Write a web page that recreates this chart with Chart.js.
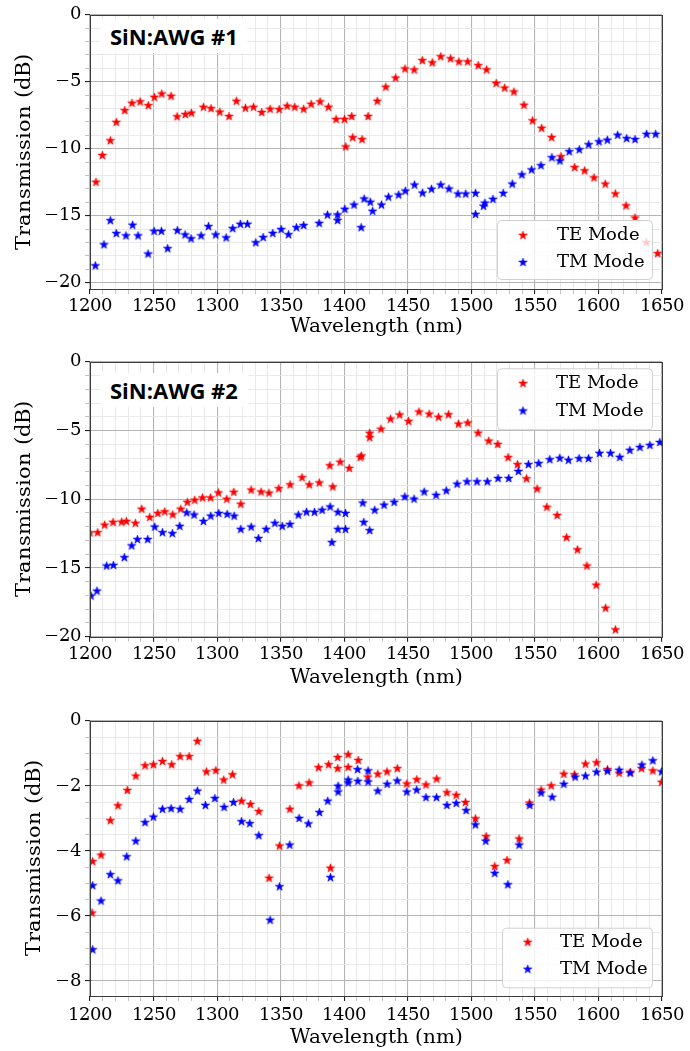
<!DOCTYPE html>
<html>
<head>
<meta charset="utf-8">
<script src="https://cdn.jsdelivr.net/npm/chart.js@4.4.1/dist/chart.umd.min.js"></script>
<style>
  @font-face { font-family: "PlotSerif"; src: local("DejaVu Serif"), local("DejaVuSerif"); }
  html, body { margin: 0; padding: 0; background: #fff; }
  body { width: 690px; height: 1051px; position: relative; overflow: hidden; }
  canvas { position: absolute; left: 0; }
  .tag {
    position: absolute; background: #fff; color: #000;
    font: bold 22px "Open Sans", sans-serif; line-height: 34px;
    padding-left: 10px; box-sizing: border-box; white-space: nowrap;
  }
</style>
</head>
<body>
<canvas id="awg1" width="690" height="345" style="top:0px"></canvas>
<canvas id="awg2" width="690" height="345" style="top:347px"></canvas>
<canvas id="awg3" width="690" height="345" style="top:706px"></canvas>
<div class="tag" style="left:100px; top:19px; width:147px; height:34px;">SiN:AWG #1</div>
<div class="tag" style="left:100px; top:373px; width:148px; height:34px;">SiN:AWG #2</div>
<script>
// ---- data (wavelength in nm, transmission in dB) ----
const wl1TE = [1204.7,1209.7,1216,1220.7,1227.3,1233,1239.4,1245.9,1250.6,1256.4,1263.8,1268.5,1275,1279.8,1289.2,1295.2,1302.1,1309.4,1315.2,1322.3,1328.6,1335.1,1341.7,1348.8,1355.1,1361.1,1368.1,1374,1381,1387.6,1393.6,1400.2,1401.2,1405.9,1406.7,1414,1418.8,1426,1432.7,1440.4,1447.8,1455,1461.4,1469.3,1475.9,1483.7,1490.2,1497.1,1505.4,1512,1519.6,1526.2,1533.5,1541.4,1548.2,1555.3,1563.2,1570.5,1581.3,1589.1,1596.5,1605.4,1613.3,1621.7,1628.8,1637.7,1646.6];
const tr1TE = [-12.5,-10.5,-9.4,-8.03,-7.15,-6.6,-6.5,-6.78,-6.16,-5.91,-6.08,-7.61,-7.44,-7.34,-6.9,-7.0,-7.27,-7.59,-6.45,-6.97,-6.9,-7.29,-7.05,-7.07,-6.82,-6.9,-7.05,-6.68,-6.5,-6.9,-7.81,-7.81,-9.86,-7.59,-9.17,-9.31,-7.59,-6.45,-5.4,-4.72,-4.04,-4.12,-3.42,-3.58,-3.13,-3.28,-3.51,-3.51,-3.79,-4.11,-5.12,-5.47,-5.76,-6.75,-7.91,-8.47,-9.16,-10.59,-11.4,-11.65,-12.17,-12.64,-13.37,-14.26,-15.17,-17.0,-17.83];
const wl1TM = [1204.2,1211,1216,1220.7,1228.3,1233.5,1237.8,1245.7,1250.4,1256.2,1261.1,1268.7,1274.8,1279.5,1287.4,1293.2,1298.9,1307.1,1312.3,1318.3,1323.9,1330.4,1336.2,1343.8,1350.4,1356.2,1362.4,1368.1,1380.3,1386.8,1394.8,1394.8,1400.5,1407.7,1413.3,1415.7,1420.5,1422.3,1429.3,1434.8,1442.8,1448.1,1455.3,1461.6,1468.7,1475.9,1482.4,1489.5,1495.6,1503.3,1503.3,1509.6,1510.7,1517,1525.1,1532.2,1539.8,1547.4,1554.8,1563.4,1569.7,1577,1584.9,1592.3,1600.4,1607,1615.1,1622.2,1628.8,1637.9,1645];
const tr1TM = [-18.74,-17.17,-15.37,-16.33,-16.5,-15.71,-16.5,-17.86,-16.16,-16.16,-17.46,-16.11,-16.43,-16.72,-16.5,-15.81,-16.43,-16.65,-15.96,-15.64,-15.64,-17.02,-16.63,-16.32,-16.03,-16.42,-15.89,-15.73,-15.57,-14.95,-14.94,-15.36,-14.52,-14.2,-15.89,-13.75,-13.99,-14.67,-14.2,-13.61,-13.45,-13.16,-12.71,-13.31,-13.02,-12.71,-13.0,-13.38,-13.38,-13.33,-14.9,-14.29,-14.06,-13.77,-13.33,-12.64,-11.95,-11.58,-11.26,-10.67,-10.91,-10.22,-10.07,-9.7,-9.48,-9.36,-8.99,-9.24,-9.31,-8.92,-8.92];

const wl2TE = [1200,1206,1211.5,1218.1,1224.9,1228.6,1235.7,1240.7,1247,1253.3,1258.8,1265.1,1271.4,1276.6,1282.4,1288.5,1294.8,1301,1307.6,1313.1,1318.6,1326.8,1334.6,1340.8,1348.5,1357.4,1366.8,1372.5,1380.4,1388.7,1391,1396.8,1404,1412.6,1413.5,1420,1420,1428.9,1436.4,1443.6,1450.6,1458.8,1466.8,1474.2,1482,1489.9,1497.2,1505.3,1513.7,1520.8,1528.9,1536.3,1543.4,1551.8,1559.4,1567.5,1574.9,1583.5,1590.9,1598.2,1605.6,1613.4];
const tr2TE = [-12.45,-12.43,-11.88,-11.68,-11.66,-11.61,-11.75,-10.72,-11.32,-11.03,-10.91,-11.13,-10.72,-10.22,-10.07,-9.9,-9.9,-9.54,-10.0,-9.49,-10.36,-9.33,-9.47,-9.55,-9.23,-8.95,-8.43,-8.95,-8.81,-7.56,-9.1,-7.3,-7.75,-6.95,-6.85,-5.2,-5.52,-4.9,-4.17,-3.87,-4.33,-3.65,-3.81,-4.03,-3.85,-4.53,-4.45,-5.19,-5.77,-6.01,-6.97,-7.48,-8.51,-9.25,-10.58,-11.18,-12.79,-13.68,-14.86,-16.25,-17.93,-19.5];
const wl2TM = [1200.8,1205.5,1213.1,1218.4,1227,1232.8,1237.3,1245.4,1250.9,1257,1264.8,1270.6,1276.1,1281.9,1289.2,1295,1301.3,1307.9,1313.4,1318.6,1326.8,1332.5,1338.6,1345.4,1351.2,1357.3,1363.9,1370.3,1376.6,1382.6,1388.9,1390.3,1395.1,1395.1,1401,1401,1414.6,1415.4,1420,1424,1431.3,1439.3,1447.7,1454.9,1462.9,1472.3,1480.3,1488.8,1496.6,1504.5,1512.6,1521,1529.4,1537,1544.9,1553,1561.7,1569.6,1576.4,1584.8,1592.2,1600.8,1609.5,1616.8,1624.7,1632.6,1640.5,1648.3];
const tr2TM = [-17.04,-16.68,-14.86,-14.81,-14.25,-13.39,-12.93,-12.93,-12.02,-12.43,-12.5,-11.97,-10.99,-11.15,-11.61,-11.23,-11.03,-11.1,-11.23,-12.19,-12.02,-12.86,-12.19,-11.75,-11.97,-11.83,-11.15,-10.94,-10.95,-10.8,-10.56,-13.15,-10.95,-12.19,-11.03,-12.19,-10.28,-11.68,-12.28,-10.8,-10.43,-10.22,-9.83,-9.99,-9.47,-9.71,-9.39,-8.9,-8.73,-8.73,-8.73,-8.49,-8.49,-7.98,-7.48,-7.4,-7.12,-7.02,-7.16,-7.04,-7.04,-6.66,-6.66,-6.95,-6.44,-6.23,-6.08,-5.87];

const wl3TE = [1201.6,1202.1,1208.7,1216,1222,1229.4,1236,1243.3,1249.9,1257,1264.3,1270.9,1278,1284.5,1291.6,1299,1305.2,1312.1,1319.2,1326.2,1332.8,1340.9,1349.1,1357.2,1364.4,1372.4,1379.8,1387.7,1389.2,1394.9,1394.9,1403.1,1403.1,1411,1418.6,1426.4,1433.7,1441.8,1449.2,1457.1,1464.3,1472.7,1480.8,1488.1,1495.4,1503.2,1511.6,1518.4,1528.1,1537.6,1545.7,1554.9,1562.8,1572.8,1581.1,1589.8,1598.5,1607.1,1616.3,1625,1633.9,1642.8,1649.7];
const tr3TE = [-5.91,-4.33,-4.13,-3.07,-2.61,-2.14,-1.7,-1.38,-1.35,-1.25,-1.35,-1.1,-1.1,-0.63,-1.57,-1.53,-1.82,-1.66,-2.47,-2.57,-2.79,-4.84,-3.85,-2.72,-2.0,-1.91,-1.44,-1.35,-4.53,-1.13,-1.47,-1.04,-1.43,-1.22,-1.73,-1.64,-1.57,-1.47,-1.94,-1.81,-1.97,-1.79,-2.21,-2.29,-2.51,-3.01,-3.56,-4.48,-4.29,-3.63,-2.53,-2.13,-2.0,-1.64,-1.66,-1.33,-1.29,-1.5,-1.61,-1.58,-1.47,-1.54,-1.89];
const wl3TM = [1202.1,1202.1,1208.7,1216,1222,1228.9,1236,1243.3,1249.9,1257,1263.8,1270.9,1278,1284.5,1290.8,1298.2,1305.5,1312.9,1319.2,1325.7,1332.8,1341.7,1349.1,1357.1,1364.5,1371.8,1380.5,1387,1389.2,1395.2,1395.2,1403.1,1403.1,1410.5,1410.7,1418.8,1418.8,1426.4,1433.8,1441.7,1449.2,1457,1464.3,1472.6,1480.8,1488.1,1495.9,1503.2,1511.3,1518.4,1528.7,1537.6,1546,1554.9,1563.6,1572.8,1581.7,1589.8,1598.5,1607.1,1616.3,1625,1634.2,1642.8,1649.7];
const tr3TM = [-7.04,-5.07,-5.54,-4.73,-4.92,-4.18,-3.7,-3.13,-2.96,-2.72,-2.7,-2.72,-2.42,-2.16,-2.6,-2.39,-2.66,-2.51,-3.1,-3.16,-3.53,-6.13,-5.1,-3.82,-3.0,-3.17,-2.82,-2.47,-4.82,-2.01,-2.19,-1.82,-1.91,-1.5,-1.86,-1.54,-1.88,-2.16,-1.95,-1.85,-2.19,-2.13,-2.36,-2.36,-2.6,-2.54,-2.76,-3.2,-3.7,-4.69,-5.04,-3.82,-2.6,-2.22,-2.35,-1.95,-1.73,-1.7,-1.58,-1.55,-1.52,-1.61,-1.36,-1.23,-1.57];

// tick labels
const xMajor = [1200, 1250, 1300, 1350, 1400, 1450, 1500, 1550, 1600, 1650];
const yMajorAWG = [-20, -15, -10, -5, 0];
const yMajor3 = [-8, -6, -4, -2, 0];
const seriesNames = ['TE Mode', 'TM Mode'];

const SERIF = 'PlotSerif, "DejaVu Serif", serif';
Chart.defaults.font.family = SERIF;
Chart.defaults.color = '#000';

function starImage(color) {
  const c = document.createElement('canvas');
  c.width = 11; c.height = 11;
  const g = c.getContext('2d');
  g.beginPath();
  for (let i = 0; i < 10; i++) {
    const r = i % 2 ? 1.75 : 4.5;
    const a = -Math.PI / 2 + i * Math.PI / 5;
    const px = 5.5 + r * Math.cos(a), py = 5.5 + r * Math.sin(a);
    if (i) g.lineTo(px, py); else g.moveTo(px, py);
  }
  g.closePath();
  g.fillStyle = color; g.fill();
  g.lineWidth = 0.6; g.strokeStyle = color; g.stroke();
  return c;
}
const starRed = starImage('#ff0000');
const starBlue = starImage('#0000ff');

function isMajor(list, v) {
  return v !== undefined && list.some(m => Math.abs(m - v) < 1e-6);
}

function buildTicks(min, max, major, step) {
  const vals = new Set(major.filter(v => v >= min - 1e-9 && v <= max + 1e-9));
  const start = Math.ceil(min / step - 1e-9) * step;
  for (let v = start; v <= max + 1e-9; v += step) vals.add(+v.toFixed(4));
  return [...vals].sort((a, b) => a - b).map(v => ({ value: v }));
}

function fmt(v) {
  return v < 0 ? '\u2212' + Math.abs(v) : String(v);
}

function gridFor(major) {
  return {
    drawTicks: true,
    tickLength: 5,
    color: ctx => isMajor(major, ctx.tick && ctx.tick.value) ? '#b4b4b4' : '#e6e6e6',
    lineWidth: ctx => isMajor(major, ctx.tick && ctx.tick.value) ? 1.1 : 0.9,
    tickColor: ctx => isMajor(major, ctx.tick && ctx.tick.value) ? '#222222' : '#bdbdbd'
  };
}

// frame round the plot area (matplotlib spines)
const framePlugin = {
  id: 'frame',
  afterDatasetsDraw(chart) {
    const a = chart.chartArea, g = chart.ctx;
    g.save();
    g.strokeStyle = '#3c3c3c';
    g.lineWidth = 1;
    g.strokeRect(Math.round(a.left) + 0.5, Math.round(a.top) + 0.5,
      Math.round(a.right - a.left), Math.round(a.bottom - a.top));
    g.restore();
  }
};

// matplotlib-like legend box
const legendPlugin = {
  id: 'mplLegend',
  afterDraw(chart, args, o) {
    const g = chart.ctx;
    g.save();
    g.beginPath();
    g.roundRect(o.left + 0.5, o.top + 0.5, o.width, o.height, 4);
    g.fillStyle = 'rgba(255,255,255,0.8)';
    g.fill();
    g.strokeStyle = '#d0d0d0';
    g.lineWidth = 1;
    g.stroke();
    g.font = '18px ' + SERIF;
    g.fillStyle = '#000';
    g.textBaseline = 'middle';
    chart.data.datasets.forEach((ds, i) => {
      const img = ds.pointStyle;
      g.drawImage(img, o.markerX - img.width / 2, o.rows[i] - img.height / 2);
      g.fillText(ds.label, o.textX, o.rows[i]);
    });
    g.restore();
  }
};

function pts(xs, ys) {
  return xs.map((x, i) => ({ x: x, y: ys[i] }));
}

function makeChart(id, p) {
  return new Chart(document.getElementById(id), {
    type: 'scatter',
    data: {
      datasets: [
        { label: seriesNames[0], data: pts(p.teX, p.teY), pointStyle: starRed, pointRadius: 4, order: 1, clip: 0 },
        { label: seriesNames[1], data: pts(p.tmX, p.tmY), pointStyle: starBlue, pointRadius: 4, order: 0, clip: 0 }
      ]
    },
    options: {
      responsive: false,
      animation: false,
      devicePixelRatio: 1,
      layout: { padding: { top: p.padTop, right: 28, left: 0, bottom: 0 } },
      plugins: {
        legend: { display: false },
        tooltip: { enabled: false },
        mplLegend: p.legend
      },
      scales: {
        x: {
          type: 'linear',
          min: 1200,
          max: 1650,
          afterBuildTicks: s => { s.ticks = buildTicks(1200, 1650, xMajor, 10); },
          afterFit: s => { s.height = p.xAxisH; },
          ticks: {
            autoSkip: false,
            maxRotation: 0,
            padding: p.xTickPad,
            color: '#000',
            font: { family: SERIF, size: 18 },
            callback: v => isMajor(xMajor, v) ? String(v) : ''
          },
          grid: gridFor(xMajor),
          border: { display: false },
          title: {
            display: true,
            text: 'Wavelength (nm)',
            color: '#000',
            font: { family: SERIF, size: 20 },
            padding: { top: 0, bottom: p.xTitlePad }
          }
        },
        y: {
          type: 'linear',
          min: p.yMin,
          max: 0,
          afterBuildTicks: s => { s.ticks = buildTicks(p.yMin, 0, p.yMajor, p.yStep); },
          afterFit: s => { s.width = 90; },
          ticks: {
            autoSkip: false,
            padding: 4,
            color: '#000',
            font: { family: SERIF, size: 18 },
            callback: v => isMajor(p.yMajor, v) ? fmt(v) : ''
          },
          grid: gridFor(p.yMajor),
          border: { display: false },
          title: {
            display: true,
            text: 'Transmission (dB)',
            color: '#000',
            font: { family: SERIF, size: 21 },
            padding: { top: p.yTitlePad, bottom: 0 }
          }
        }
      }
    },
    plugins: [framePlugin, legendPlugin]
  });
}

let drawn = false;
function drawAll() {
  if (drawn) return;
  drawn = true;
  makeChart('awg1', {
    teX: wl1TE, teY: tr1TE, tmX: wl1TM, tmY: tr1TM,
    yMin: -20.47, yMajor: yMajorAWG, yStep: 1,
    padTop: 12, xAxisH: 56, xTickPad: 2, xTitlePad: 6, yTitlePad: 12,
    legend: { left: 497, top: 220, width: 155, height: 59, markerX: 523, textX: 557, rows: [235.5, 262.5] }
  });
  makeChart('awg2', {
    teX: wl2TE, teY: tr2TE, tmX: wl2TM, tmY: tr2TM,
    yMin: -20, yMajor: yMajorAWG, yStep: 1,
    padTop: 12.3, xAxisH: 55.3, xTickPad: 2, xTitlePad: 2.5, yTitlePad: 12,
    legend: { left: 497, top: 21.3, width: 155, height: 61, markerX: 523, textX: 556, rows: [36.5, 64] }
  });
  makeChart('awg3', {
    teX: wl3TE, teY: tr3TE, tmX: wl3TM, tmY: tr3TM,
    yMin: -8.46, yMajor: yMajor3, yStep: 0.5,
    padTop: 12.3, xAxisH: 55, xTickPad: 4, xTitlePad: 1.5, yTitlePad: 22,
    legend: { left: 502, top: 221.7, width: 150, height: 59.6, markerX: 527.7, textX: 560, rows: [236.3, 263.3] }
  });
}

// the serif face is a local() @font-face, so wait for it before painting
document.fonts.load('18px PlotSerif').then(drawAll, drawAll);
setTimeout(drawAll, 400);
</script>
</body>
</html>
